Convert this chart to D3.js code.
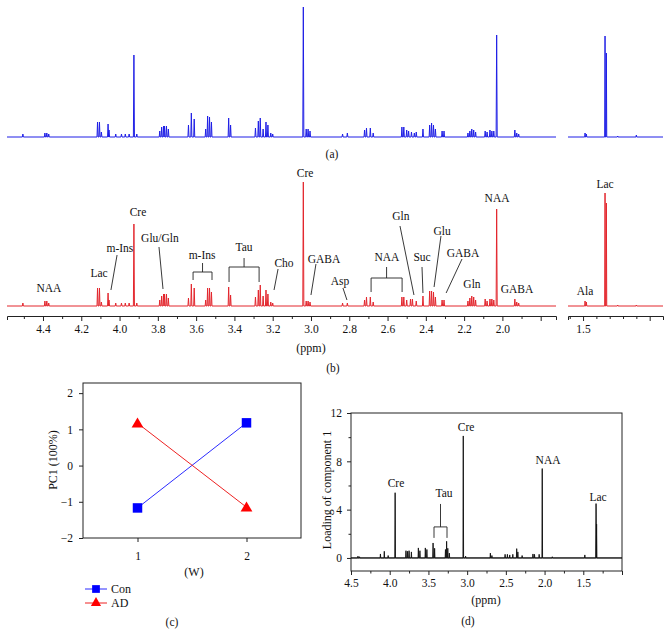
<!DOCTYPE html>
<html><head><meta charset="utf-8">
<script src="https://cdn.jsdelivr.net/npm/d3@7"></script>
<style>
body{margin:0;background:#fff}
svg{display:block}
svg text{font-family:"Liberation Serif","DejaVu Serif",serif !important;fill:#111}
</style>
</head><body>
<svg id="chart" width="670" height="643" font-family="Liberation Serif"></svg>
<script>
// ---------- DATA ----------
// (a) control spectrum: [ppm, intensity a.u.]
const blueSpectrum = [
 [4.505,3],[4.39,4],[4.38,4],[4.37,3],
 [4.115,15],[4.105,15],[4.095,5],[4.06,13],[4.055,7],
 [4.02,3],[3.99,3],[3.97,3],[3.95,3],
 [3.925,82],[3.91,3],
 [3.79,6],[3.78,10],[3.77,11],[3.765,11],[3.755,11],[3.745,8],
 [3.64,12],[3.625,24],[3.61,18],
 [3.55,8],[3.54,21],[3.53,20],[3.52,15],
 [3.43,19],[3.42,12],
 [3.29,9],[3.275,16],[3.265,19],[3.25,8],[3.235,15],[3.225,12],[3.21,4],[3.20,3],
 [3.04,130],[3.025,8],[3.015,8],[3.005,6],
 [2.835,3],[2.81,4],
 [2.72,7],[2.71,9],[2.69,9],[2.675,4],
 [2.525,10],[2.515,10],[2.50,7],[2.49,6],[2.475,5],[2.46,4],[2.45,5],
 [2.415,8],
 [2.38,12],[2.37,14],[2.36,12],[2.35,8],
 [2.315,6],[2.305,6],
 [2.18,4],[2.17,6],[2.16,8],[2.15,7],[2.14,5],
 [2.09,6],[2.08,5],[2.065,7],[2.055,6],[2.045,6],
 [2.03,102],
 [1.935,7],[1.925,4],[1.915,3],
 [1.485,4],[1.475,3],[1.335,101],[1.325,84],[1.24,1],[1.10,2]
];
// (b) AD spectrum
const redSpectrum = [
 [4.505,3],[4.39,5],[4.38,5],[4.37,3],
 [4.115,18],[4.105,18],[4.095,4],[4.06,13],[4.055,6],
 [4.02,3],[3.99,3],[3.97,3],[3.95,3],
 [3.925,82],[3.91,3],
 [3.79,6],[3.78,10],[3.77,12],[3.765,12],[3.755,12],[3.745,8],
 [3.64,8],[3.625,22],[3.61,18],
 [3.55,6],[3.54,18],[3.53,18],[3.52,14],
 [3.43,19],[3.42,11],
 [3.29,9],[3.275,16],[3.265,21],[3.25,10],[3.235,16],[3.225,12],[3.21,4],[3.20,3],
 [3.04,124],[3.025,5],[3.015,5],[3.005,4],
 [2.835,3],[2.81,3],
 [2.72,6],[2.71,9],[2.69,9],[2.675,4],
 [2.525,9],[2.515,9],[2.50,6],[2.48,7],[2.47,7],[2.45,5],
 [2.415,10],
 [2.38,15],[2.37,15],[2.36,14],[2.35,9],
 [2.315,6],[2.305,6],
 [2.18,5],[2.17,8],[2.16,10],[2.15,9],[2.14,6],
 [2.09,7],[2.08,5],[2.065,7],[2.055,7],[2.045,6],
 [2.03,97],
 [1.935,7],[1.925,4],[1.915,3],
 [1.485,5],[1.475,4],[1.335,113],[1.325,103],[1.24,1],[1.10,1]
];
// (b) annotations: [text, ppm, intensity]
const redLabels = [
 ["NAA",4.369,18],["Lac",4.107,33],["m-Ins",3.998,58],["Cre",3.904,94],
 ["Glu/Gln",3.789,68],["m-Ins",3.569,51],["Tau",3.35,59],["Cho",3.141,43],
 ["Cre",3.031,133],["GABA",2.932,47],["Asp",2.848,25],["NAA",2.603,49],
 ["Gln",2.53,90],["Suc",2.42,49],["Glu",2.315,75],["GABA",2.206,53],
 ["Gln",2.159,22],["NAA",2.028,108],["GABA",1.924,17],
 ["Ala",1.485,15],["Lac",1.335,122]
];
// leader lines: [ppm1, int1, ppm2, int2]
const redLeaders = [
 [4.013,51,4.045,16],[3.794,59,3.773,17],[3.172,37,3.193,16],
 [2.974,42,3.0,11],[2.833,18,2.812,6],[2.535,80,2.462,11],
 [2.42,39,2.415,13],[2.321,70,2.357,19],[2.211,47,2.294,13]
];
// brackets: [ppmLeft, ppmRight, stemTop, barLevel, legBottom]
const redBrackets = [
 [3.616,3.517,43,34,26],[3.428,3.271,48,39,24],[2.686,2.524,39,28,14]
];
const ppmMajorLeft = [4.4,4.2,4.0,3.8,3.6,3.4,3.2,3.0,2.8,2.6,2.4,2.2,2.0,1.8];
const ppmMinorLeft = [4.5,4.3,4.1,3.9,3.7,3.5,3.3,3.1,2.9,2.7,2.5,2.3,2.1,1.9];
const ppmMajorRight = [1.5,1.0];
const ppmMinorRight = [1.6,1.4,1.3,1.2,1.1];

// (c) PCA scores
const weeks = [1,2];
const conScores = [-1.17,1.18];
const adScores = [1.17,-1.15];
const pcTicks = [-2,-1,0,1,2];

// (d) loadings: [ppm, loading]
const loadingSpectrum = [
 [4.41,0.15],[4.39,0.1],[4.12,0.33],[4.07,0.55],[4.02,0.2],[3.93,5.4],
 [3.79,0.6],[3.77,0.55],[3.75,0.6],[3.72,0.5],
 [3.63,0.83],[3.61,0.6],[3.54,0.83],[3.52,0.7],
 [3.44,1.24],[3.42,0.8],
 [3.28,0.7],[3.265,1.38],[3.25,0.8],[3.23,0.4],
 [3.05,10.1],[3.02,0.15],
 [2.70,0.4],[2.68,0.2],
 [2.51,0.3],[2.48,0.3],[2.45,0.25],[2.41,0.3],
 [2.36,0.77],[2.345,0.5],[2.29,0.2],
 [2.15,0.33],[2.13,0.3],[2.07,0.3],
 [2.03,7.4],[1.90,0.1],[1.48,0.25],
 [1.335,4.5],[1.328,2.8]
];
const loadLabels = [["Cre",3.919,6.2],["Cre",3.014,10.85],["NAA",1.955,8.1],["Lac",1.309,5.05],["Tau",3.298,5.4]];
const loadBracket = [3.428,3.26,4.47,2.57,1.66];
const loadXMajor = [4.5,4.0,3.5,3.0,2.5,2.0,1.5,1.0];
const loadXMinor = [4.25,3.75,3.25,2.75,2.25,1.75,1.25];
const loadYMajor = [0,4,8,12];
const loadYMinor = [2,6,10];

// ---------- DRAW ----------
const svg = d3.select("#chart");
const FS = 11.5, FT = 12;
const BLUE = "#1f1fe6", RED = "#e3262d";
const minusFmt = d => d < 0 ? "\u2212" + Math.abs(d) : String(d);

function spectrumPath(peaks, xs, ys, w) {
  const [d0, d1] = xs.domain();
  const pts = peaks.filter(p => p[0] <= d0 && p[0] >= d1).sort((a,b)=>b[0]-a[0]);
  const out = [[d0,0]];
  pts.forEach(p => { out.push([p[0]+w,0],[p[0],p[1]],[p[0]-w,0]); });
  out.push([d1,0]);
  return d3.line().x(d=>xs(d[0])).y(d=>ys(d[1]))(out);
}
function styleAxis(g){
  g.attr("font-family","Liberation Serif");
  g.selectAll("text").attr("font-size",FS).attr("fill","#111");
  g.selectAll("line,path").attr("stroke","#222");
}

const xL = d3.scaleLinear().domain([4.588,1.72]).range([7,556]);
const xR = d3.scaleLinear().domain([1.613,0.90]).range([568,663]);
const xPick = p => p > 1.66 ? xL : xR;

// (a)
const yA = d3.scaleLinear().domain([0,130]).range([137,7]);
[xL,xR].forEach(xs => svg.append("path").attr("d", spectrumPath(blueSpectrum, xs, yA, 0.0028))
  .attr("fill","none").attr("stroke",BLUE).attr("stroke-width",1));
svg.append("text").attr("x",332).attr("y",154).attr("dy","0.35em").attr("text-anchor","middle").attr("font-size",FS).text("(a)");

// (b)
const yB = d3.scaleLinear().domain([0,130]).range([306,176]);
[xL,xR].forEach(xs => svg.append("path").attr("d", spectrumPath(redSpectrum, xs, yB, 0.0028))
  .attr("fill","none").attr("stroke",RED).attr("stroke-width",1));

const gAx = svg.append("g").attr("transform","translate(0,316)");
function segAxis(xs, majors, minors, fmt) {
  const g1 = gAx.append("g").call(d3.axisBottom(xs).tickValues(majors).tickSize(5).tickSizeOuter(4).tickPadding(4).tickFormat(fmt));
  const g2 = gAx.append("g").call(d3.axisBottom(xs).tickValues(minors).tickSize(3).tickSizeOuter(0).tickFormat(""));
  g2.select(".domain").remove();
  styleAxis(g1); styleAxis(g2);
}
segAxis(xL, ppmMajorLeft, ppmMinorLeft, d => d===1.8 ? "" : d.toFixed(1));
segAxis(xR, ppmMajorRight, ppmMinorRight, d => d===1.5 ? "1.5" : "");
svg.append("text").attr("x",311).attr("y",348).attr("dy","0.35em").attr("text-anchor","middle").attr("font-size",FT).text("(ppm)");
svg.append("text").attr("x",333).attr("y",368).attr("dy","0.35em").attr("text-anchor","middle").attr("font-size",FS).text("(b)");

const ann = svg.append("g");
redLabels.forEach(([t,p,v]) => ann.append("text").attr("x",xPick(p)(p)).attr("y",yB(v)).attr("dy","0.35em")
  .attr("text-anchor","middle").attr("font-size",FS).text(t));
redLeaders.forEach(([p1,v1,p2,v2]) => ann.append("line").attr("x1",xL(p1)).attr("y1",yB(v1)).attr("x2",xL(p2)).attr("y2",yB(v2))
  .attr("stroke","#222").attr("stroke-width",0.9));
redBrackets.forEach(([pl,pr,top,bar,leg]) => {
  const pm = (pl+pr)/2;
  ann.append("path").attr("d",`M${xL(pm)},${yB(top)}V${yB(bar)}M${xL(pl)},${yB(leg)}V${yB(bar)}H${xL(pr)}V${yB(leg)}`)
    .attr("fill","none").attr("stroke","#222").attr("stroke-width",0.9);
});

// (c)
const xC = d3.scaleLinear().domain([0.5,2.5]).range([83,301]);
const yC = d3.scaleLinear().domain([-2,2.28]).range([538,383]);
const gC = svg.append("g");
gC.append("rect").attr("x",83).attr("y",383).attr("width",218).attr("height",155).attr("fill","none").attr("stroke","#222").attr("stroke-width",1);
const yAxC = gC.append("g").attr("transform","translate(83,0)").call(d3.axisLeft(yC).tickValues(pcTicks).tickSize(4).tickSizeOuter(0).tickPadding(6).tickFormat(minusFmt));
const xAxC = gC.append("g").attr("transform","translate(0,538)").call(d3.axisBottom(xC).tickValues(weeks).tickSize(4).tickSizeOuter(0).tickPadding(10).tickFormat(d3.format("d")));
[yAxC,xAxC].forEach(g=>{ g.select(".domain").remove(); styleAxis(g); });
gC.append("text").attr("transform","translate(53,460) rotate(-90)").attr("dy","0.35em").attr("text-anchor","middle").attr("font-size",FT).text("PC1 (100%)");
gC.append("text").attr("x",194).attr("y",572).attr("dy","0.35em").attr("text-anchor","middle").attr("font-size",FT).text("(W)");
const lineC = d3.line().x((d,i)=>xC(weeks[i])).y(d=>yC(d));
gC.append("path").attr("d",lineC(conScores)).attr("stroke","#2b2bff").attr("fill","none").attr("stroke-width",1);
gC.append("path").attr("d",lineC(adScores)).attr("stroke","#ee2222").attr("fill","none").attr("stroke-width",1);
const sq = d3.symbol().type(d3.symbolSquare), tri = d3.symbol().type(d3.symbolTriangle);
conScores.forEach((v,i)=>gC.append("path").attr("d",sq.size(90)()).attr("transform",`translate(${xC(weeks[i])},${yC(v)})`).attr("fill","#0000ff"));
adScores.forEach((v,i)=>gC.append("path").attr("d",tri.size(60)()).attr("transform",`translate(${xC(weeks[i])},${yC(v)+1})`).attr("fill","#ff0000"));
// legend
const legend = [["Con","#2b2bff","#0000ff",sq.size(60)()],["AD","#ee2222","#ff0000",tri.size(45)()]];
legend.forEach(([t,lc,fc,sym],i)=>{
  const y = 589 + i*14;
  gC.append("line").attr("x1",85).attr("x2",107).attr("y1",y).attr("y2",y).attr("stroke",lc).attr("stroke-width",1);
  gC.append("path").attr("d",sym).attr("transform",`translate(96,${y})`).attr("fill",fc);
  gC.append("text").attr("x",111).attr("y",y).attr("dy","0.35em").attr("font-size",FT).text(t);
});
gC.append("text").attr("x",172).attr("y",622).attr("dy","0.35em").attr("text-anchor","middle").attr("font-size",FS).text("(c)");

// (d)
const xD = d3.scaleLinear().domain([4.5,1.0]).range([351,622]);
const yD = d3.scaleLinear().domain([-1.08,12]).range([571,413]);
const gD = svg.append("g");
gD.append("rect").attr("x",351).attr("y",413).attr("width",271).attr("height",158).attr("fill","none").attr("stroke","#222").attr("stroke-width",1);
gD.append("line").attr("x1",351).attr("x2",622).attr("y1",yD(0)).attr("y2",yD(0)).attr("stroke","#222").attr("stroke-width",1);
gD.append("path").attr("d",spectrumPath(loadingSpectrum,xD,yD,0.004)).attr("fill","#111").attr("stroke","#111").attr("stroke-width",0.9);
function axD(g){ g.select(".domain").remove(); styleAxis(g); }
axD(gD.append("g").attr("transform","translate(0,571)").call(d3.axisBottom(xD).tickValues(loadXMajor).tickSize(4).tickSizeOuter(0).tickPadding(4).tickFormat(d=>d===1.0?"":d.toFixed(1))));
axD(gD.append("g").attr("transform","translate(0,571)").call(d3.axisBottom(xD).tickValues(loadXMinor).tickSize(2.5).tickFormat("")));
axD(gD.append("g").attr("transform","translate(351,0)").call(d3.axisLeft(yD).tickValues(loadYMajor).tickSize(4).tickSizeOuter(0).tickPadding(5).tickFormat(minusFmt)));
axD(gD.append("g").attr("transform","translate(351,0)").call(d3.axisLeft(yD).tickValues(loadYMinor).tickSize(2.5).tickFormat("")));
loadLabels.forEach(([t,p,v])=>gD.append("text").attr("x",xD(p)).attr("y",yD(v)).attr("dy","0.35em").attr("text-anchor","middle").attr("font-size",FS).text(t));
{
  const [pl,pr,top,bar,leg] = loadBracket; const pm=(pl+pr)/2;
  gD.append("path").attr("d",`M${xD(pm)},${yD(top)}V${yD(bar)}M${xD(pl)},${yD(leg)}V${yD(bar)}H${xD(pr)}V${yD(leg)}`)
    .attr("fill","none").attr("stroke","#222").attr("stroke-width",0.9);
}
gD.append("text").attr("transform","translate(327,490) rotate(-90)").attr("dy","0.35em").attr("text-anchor","middle").attr("font-size",FT).text("Loading of component 1");
gD.append("text").attr("x",486).attr("y",600).attr("dy","0.35em").attr("text-anchor","middle").attr("font-size",FT).text("(ppm)");
gD.append("text").attr("x",468).attr("y",621).attr("dy","0.35em").attr("text-anchor","middle").attr("font-size",FS).text("(d)");
</script>
</body></html>
